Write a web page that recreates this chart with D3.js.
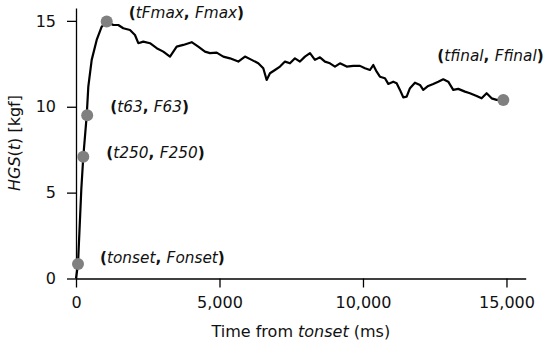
<!DOCTYPE html>
<html>
<head>
<meta charset="utf-8">
<script src="https://cdn.jsdelivr.net/npm/d3@7"></script>
<style>
  body { margin: 0; background: #fff; }
  svg text { font-family: "DejaVu Sans", sans-serif; }
</style>
</head>
<body>
<div id="chart"></div>
<script>
// HGS force curve
var timeMs = [0, 70, 185, 254, 373, 429, 547, 721, 895, 1070, 1300, 1474, 1648, 1881, 2055, 2171,
  2345, 2578, 2812, 3042, 3275, 3508, 3738, 4031, 4261, 4494, 4669, 4902, 5132, 5365, 5655,
  5888, 6121, 6351, 6526, 6644, 6759, 6933, 7108, 7282, 7456, 7630, 7804, 7978, 8153, 8327,
  8501, 8675, 8849, 9024, 9198, 9431, 9661, 9895, 10069, 10243, 10358, 10477, 10591, 10766,
  10881, 11055, 11173, 11288, 11403, 11522, 11637, 11811, 11985, 12100, 12274, 12448, 12623,
  12797, 12971, 13145, 13320, 13553, 13727, 13960, 14134, 14309, 14483, 14657, 14887];
var forceKgf = [0, 0.84, 5.2, 7.09, 9.48, 11.17, 12.73, 13.89, 14.66, 14.96, 14.76, 14.76, 14.57,
  14.47, 14.18, 13.70, 13.79, 13.70, 13.41, 13.21, 12.92, 13.50, 13.60, 13.76, 13.50, 13.21,
  13.12, 13.15, 12.92, 12.82, 12.63, 12.92, 12.73, 12.53, 12.24, 11.56, 11.95, 12.14, 12.34,
  12.63, 12.53, 12.82, 12.63, 12.92, 13.12, 12.73, 12.88, 12.63, 12.53, 12.34, 12.53, 12.34,
  12.38, 12.38, 12.24, 12.14, 12.43, 12.04, 11.75, 11.66, 11.33, 11.46, 11.37, 10.98, 10.55,
  10.59, 11.08, 11.40, 11.27, 10.98, 11.21, 11.33, 11.46, 11.60, 11.46, 10.98, 11.04, 10.88,
  10.79, 10.63, 10.49, 10.79, 10.49, 10.40, 10.40];

// key points on the curve
var keyNames = [["tonset", "Fonset"], ["t250", "F250"], ["t63", "F63"], ["tFmax", "Fmax"], ["tfinal", "Ffinal"]];
var keyT = [70, 254, 390, 1070, 14890];
var keyF = [0.84, 7.09, 9.5, 14.96, 10.4];

var xTicks = [0, 5000, 10000, 15000];
var yTicks = [0, 5, 10, 15];

var svgWidth = 550;
var svgHeight = 347;

var svg = d3.select("#chart")
  .append("svg")
  .attr("width", svgWidth)
  .attr("height", svgHeight);

var x = d3.scaleLinear().domain([0, 15670]).range([76, 525.7]);
var y = d3.scaleLinear().domain([0, 15.75]).range([278.5, 8]);

// axes
var xAxis = svg.append("g")
  .attr("transform", "translate(0," + y(0) + ")")
  .call(d3.axisBottom(x).tickValues(xTicks).tickFormat(d3.format(",")).tickSize(9).tickSizeOuter(0).tickPadding(9));

var yAxis = svg.append("g")
  .attr("transform", "translate(" + x(0) + ",0)")
  .call(d3.axisLeft(y).tickValues(yTicks).tickSize(9).tickSizeOuter(0).tickPadding(11));

[xAxis, yAxis].forEach(function (g) {
  g.selectAll("path, line").attr("stroke", "#000").attr("stroke-width", 1.3);
  g.selectAll("text").attr("font-size", 16).attr("fill", "#111");
});

// axis labels
var xl = svg.append("text")
  .attr("x", (x.range()[0] + x.range()[1]) / 2)
  .attr("y", 337)
  .attr("text-anchor", "middle")
  .attr("font-size", 16)
  .attr("fill", "#111");
xl.append("tspan").text("Time from ");
xl.append("tspan").attr("font-style", "italic").text("tonset");
xl.append("tspan").text(" (ms)");

var yl = svg.append("text")
  .attr("transform", "translate(20," + 143 + ") rotate(-90)")
  .attr("text-anchor", "middle")
  .attr("font-size", 16)
  .attr("fill", "#111");
yl.append("tspan").attr("font-style", "italic").text("HGS");
yl.append("tspan").text("(");
yl.append("tspan").attr("font-style", "italic").text("t");
yl.append("tspan").text(") [kgf]");

// curve
var line = d3.line()
  .x(function (d, i) { return x(timeMs[i]); })
  .y(function (d, i) { return y(forceKgf[i]); });

svg.append("path")
  .datum(timeMs)
  .attr("d", line)
  .attr("fill", "none")
  .attr("stroke", "#000")
  .attr("stroke-width", 2.2)
  .attr("stroke-linejoin", "round");

// dots
svg.selectAll(null)
  .data(keyT)
  .enter()
  .append("circle")
  .attr("cx", function (d) { return x(d); })
  .attr("cy", function (d, i) { return y(keyF[i]); })
  .attr("r", 6)
  .attr("fill", "#808080");

// annotation labels, offset from their dot
var offsets = [[22, -1], [23, 1], [23, -3], [22, -4], [-66, -39]];
keyNames.forEach(function (n, i) {
  var t = svg.append("text")
    .attr("x", x(keyT[i]) + offsets[i][0])
    .attr("y", y(keyF[i]) + offsets[i][1])
    .attr("font-size", 15.3)
    .attr("fill", "#111");
  t.append("tspan").attr("font-weight", "bold").text("(");
  t.append("tspan").attr("font-style", "italic").text(n[0]);
  t.append("tspan").attr("font-weight", "bold").text(", ");
  t.append("tspan").attr("font-style", "italic").text(n[1]);
  t.append("tspan").attr("font-weight", "bold").text(")");
});
</script>
</body>
</html>
